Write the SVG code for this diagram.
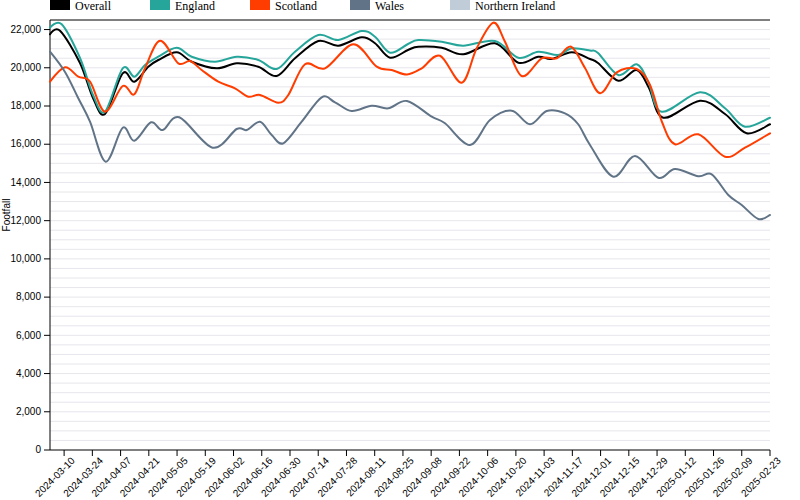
<svg xmlns="http://www.w3.org/2000/svg" width="800" height="500" viewBox="0 0 800 500">
<style>
.grid{stroke:#e6e6ec;stroke-width:1;fill:none}
.axis{stroke:#000;stroke-width:1;fill:none}
.tick{font-family:"Liberation Sans",Arial,sans-serif;font-size:10px;fill:#000}
.leg{font-family:"Liberation Serif","Times New Roman",serif;font-size:12px;fill:#000}
.line{fill:none;stroke-width:2;stroke-linejoin:round;stroke-linecap:round}
</style>
<rect width="800" height="500" fill="#fff"/>
<g id="grid">
<path class="grid" d="M50,440.44H770M50,430.89H770M50,421.33H770M50,411.78H770M50,402.22H770M50,392.67H770M50,383.11H770M50,373.56H770M50,364H770M50,354.44H770M50,344.89H770M50,335.33H770M50,325.78H770M50,316.22H770M50,306.67H770M50,297.11H770M50,287.56H770M50,278H770M50,268.44H770M50,258.89H770M50,249.33H770M50,239.78H770M50,230.22H770M50,220.67H770M50,211.11H770M50,201.56H770M50,192H770M50,182.44H770M50,172.89H770M50,163.33H770M50,153.78H770M50,144.22H770M50,134.67H770M50,125.11H770M50,115.56H770M50,106H770M50,96.44H770M50,86.89H770M50,77.33H770M50,67.78H770M50,58.22H770M50,48.67H770M50,39.11H770M50,29.56H770"/>
</g>
<g id="y-axis">
<path class="axis" d="M50,20V450M44,450H50M44,411.78H50M44,373.56H50M44,335.33H50M44,297.11H50M44,258.89H50M44,220.67H50M44,182.44H50M44,144.22H50M44,106H50M44,67.78H50M44,29.56H50"/>
<g class="tick" text-anchor="end">
<text x="41" y="450" dy="0.32em">0</text>
<text x="41" y="411.78" dy="0.32em">2,000</text>
<text x="41" y="373.56" dy="0.32em">4,000</text>
<text x="41" y="335.33" dy="0.32em">6,000</text>
<text x="41" y="297.11" dy="0.32em">8,000</text>
<text x="41" y="258.89" dy="0.32em">10,000</text>
<text x="41" y="220.67" dy="0.32em">12,000</text>
<text x="41" y="182.44" dy="0.32em">14,000</text>
<text x="41" y="144.22" dy="0.32em">16,000</text>
<text x="41" y="106" dy="0.32em">18,000</text>
<text x="41" y="67.78" dy="0.32em">20,000</text>
<text x="41" y="29.56" dy="0.32em">22,000</text>
</g>
<text class="tick" transform="translate(10,215) rotate(-90)" text-anchor="middle">Footfall</text>
</g>
<g id="top-axis"><path class="axis" d="M50,20H770"/></g>
<g id="x-axis">
<path class="axis" d="M50,450H770M64.12,450v6M92.35,450v6M120.59,450v6M148.82,450v6M177.06,450v6M205.29,450v6M233.53,450v6M261.76,450v6M290,450v6M318.23,450v6M346.47,450v6M374.7,450v6M402.94,450v6M431.17,450v6M459.41,450v6M487.64,450v6M515.88,450v6M544.11,450v6M572.35,450v6M600.58,450v6M628.82,450v6M657.05,450v6M685.29,450v6M713.52,450v6M741.76,450v6M770,450v6"/>
<g class="tick" text-anchor="end">
<text transform="translate(64.12,450) rotate(-45)" y="9" dy="0.71em">2024-03-10</text>
<text transform="translate(92.35,450) rotate(-45)" y="9" dy="0.71em">2024-03-24</text>
<text transform="translate(120.59,450) rotate(-45)" y="9" dy="0.71em">2024-04-07</text>
<text transform="translate(148.82,450) rotate(-45)" y="9" dy="0.71em">2024-04-21</text>
<text transform="translate(177.06,450) rotate(-45)" y="9" dy="0.71em">2024-05-05</text>
<text transform="translate(205.29,450) rotate(-45)" y="9" dy="0.71em">2024-05-19</text>
<text transform="translate(233.53,450) rotate(-45)" y="9" dy="0.71em">2024-06-02</text>
<text transform="translate(261.76,450) rotate(-45)" y="9" dy="0.71em">2024-06-16</text>
<text transform="translate(290,450) rotate(-45)" y="9" dy="0.71em">2024-06-30</text>
<text transform="translate(318.23,450) rotate(-45)" y="9" dy="0.71em">2024-07-14</text>
<text transform="translate(346.47,450) rotate(-45)" y="9" dy="0.71em">2024-07-28</text>
<text transform="translate(374.7,450) rotate(-45)" y="9" dy="0.71em">2024-08-11</text>
<text transform="translate(402.94,450) rotate(-45)" y="9" dy="0.71em">2024-08-25</text>
<text transform="translate(431.17,450) rotate(-45)" y="9" dy="0.71em">2024-09-08</text>
<text transform="translate(459.41,450) rotate(-45)" y="9" dy="0.71em">2024-09-22</text>
<text transform="translate(487.64,450) rotate(-45)" y="9" dy="0.71em">2024-10-06</text>
<text transform="translate(515.88,450) rotate(-45)" y="9" dy="0.71em">2024-10-20</text>
<text transform="translate(544.11,450) rotate(-45)" y="9" dy="0.71em">2024-11-03</text>
<text transform="translate(572.35,450) rotate(-45)" y="9" dy="0.71em">2024-11-17</text>
<text transform="translate(600.58,450) rotate(-45)" y="9" dy="0.71em">2024-12-01</text>
<text transform="translate(628.82,450) rotate(-45)" y="9" dy="0.71em">2024-12-15</text>
<text transform="translate(657.05,450) rotate(-45)" y="9" dy="0.71em">2024-12-29</text>
<text transform="translate(685.29,450) rotate(-45)" y="9" dy="0.71em">2025-01-12</text>
<text transform="translate(713.52,450) rotate(-45)" y="9" dy="0.71em">2025-01-26</text>
<text transform="translate(741.76,450) rotate(-45)" y="9" dy="0.71em">2025-02-09</text>
<text transform="translate(770,450) rotate(-45)" y="9" dy="0.71em">2025-02-23</text>
</g>
</g>
<g id="series">
<path id="overall" class="line" stroke="#000" d="M50,34.3 S55,25.92 60,30.7 S74.5,51.78 80,63 S88.83,89.5 93,98 S100.05,118.12 105,114 S117.82,78.68 122.7,73.3 S130.03,82.8 134.3,81.7 S144.3,70.32 148.3,66.7 S153.57,62.4 158.3,60 S171.13,52.02 176.7,52.3 S185.03,59.03 191.7,61.7 S209.2,68.03 216.7,68.3 S229.77,63.57 236.7,63.3 S251.63,64.58 258.3,66.7 S270.58,77.4 276.7,76 S288.07,64.13 295,58.3 S311.08,43.1 318.3,41 S331.07,46.32 338.3,45.7 S355.58,37.7 361.7,37.3 S370.28,39.9 375,43.3 S384.5,56.58 390,57.7 S403.28,51.83 408,50 S412.68,47.08 418.3,46.7 S434.2,46.43 441.7,47.7 S454.42,55.03 463.3,54.3 S485.83,41.9 495,43.3 S511.08,60.47 518.3,62.7 S532.73,57.32 538.3,56.7 S546.13,59.73 551.7,59 S565.32,52.3 571.7,52.3 S585.62,57.22 590,59 S593.28,59.38 598,63 S611.85,79.53 618.3,80.7 S631.58,68.78 636.7,70 S644.57,80.05 649,88 S654.8,115.58 663.3,117.7 S689.72,101.32 700,100.7 S717.22,108.57 725,114 S739.2,131.58 746.7,133.3 S766.12,125.8 770,124.3"/>
<path id="england" class="line" stroke="#26a69a" d="M50,27.7 S56.75,19.25 61.7,24.3 S74.78,46.22 80,58 S88.83,86.05 93,95 S100.05,116.15 105,111.7 S117.82,74.13 122.7,68.3 S130.58,77.25 134.3,76.7 S141,68.33 145,65 S153.02,59.58 158.3,56.7 S171.13,47.7 176.7,47.7 S185.32,54.37 191.7,56.7 S207.5,61.7 215,61.7 S229.48,56.98 236.7,56.7 S251.63,57.95 258.3,60 S270.58,70.38 276.7,69 S288.07,57.37 295,51.7 S311.08,36.95 318.3,35 S331.07,40.67 338.3,40 S355.58,31.55 361.7,31 S370.28,33.08 375,36.7 S384.5,51.48 390,52.7 S403.28,46.12 408,44 S412.68,40.38 418.3,40 S434.2,40.75 441.7,41.7 S454.42,45.82 463.3,45.7 S485.83,39 495,41 S511.08,55.92 518.3,57.7 S531.63,52.15 538.3,51.7 S552.73,55.57 558.3,55 S566.42,49.05 571.7,48.3 S585.62,49.72 590,50.5 S593.28,48.92 598,53 S611.85,73.12 618.3,75 S631.7,63.18 636.7,64.3 S644.13,73.8 648.3,81.7 S653.08,109.93 661.7,111.7 S689.45,92.87 700,92.3 S717.5,102.57 725,108.3 S737.5,125.13 745,126.7 S765.83,119.2 770,117.7"/>
<path id="scotland" class="line" stroke="#ff3d00" d="M50,81.7 S60.28,68.13 65,67.3 S74.13,74.3 78.3,76.7 S85.55,75.87 90,81.7 S99.55,110.98 105,111.7 S117.82,88.9 122.7,86 S130.58,97.25 134.3,94.3 S140.72,77.23 145,68.3 S154.45,41.53 160,40.7 S173.3,59.92 178.3,63.3 S186.1,59.88 190,61 S196.98,66.55 201.7,70 S212.75,78.65 218.3,81.7 S230,85.8 235,88.3 S244.13,95.58 248.3,96.7 S255,94 260,95 S273.58,102.7 278.3,102.7 S283.85,101.4 288.3,95 S298.88,68.75 305,64.3 S316.95,71.63 325,68.3 S344.68,44.57 353.3,44.3 S370.3,62.42 376.7,66.7 S386.65,68.7 391.7,70 S402,74.78 407,74.5 S416.2,71.43 421.7,68.3 S433.33,53.3 440,55.7 S455.58,83.93 461.7,82.7 S471.43,58.3 476.7,48.3 S488.58,23.8 493.3,22.7 S500.27,32.82 505,41.7 S515.58,73.23 521.7,76 S535.87,61.25 541.7,58.3 S551.82,60.23 556.7,58.3 S566.28,45.08 571,46.7 S580.17,60.23 585,68 S594.72,92.58 600,93.3 S610.58,76.35 616.7,72.3 S631.15,66.88 636.7,69 S645.78,76.17 650,85 S657.83,112.12 662,122 S668.95,142.25 675,144.3 S689.97,132.23 698.3,134.3 S717.22,154.47 725,156.7 S737.5,151.6 745,147.7 S765.83,135.7 770,133.3"/>
<path id="wales" class="line" stroke="#617487" d="M50,51.7 S60.28,64.23 65,72 S74.13,90.02 78.3,98.3 S85.43,111.13 90,121.7 S100.25,160.7 105.7,161.7 S117.93,131.2 122.7,127.7 S129.58,141.6 134.3,140.7 S146.27,124.08 151,122.3 S157.98,130.83 162.7,130 S170.97,114.35 179.3,117.3 S203.13,145.75 212.7,147.7 S231.03,131.95 236.7,129 S242.82,131.22 246.7,130 S255.83,120.87 260,121.7 S267.82,131.4 271.7,135 S278.3,145.52 283.3,143.3 S295.3,129.37 301.7,121.7 S316.15,100.53 321.7,97.3 S330,100.02 335,102.3 S345.58,110.43 351.7,111 S365.6,106.15 371.7,105.7 S382.42,109.08 388.3,108.3 S399.77,99.6 407,101 S425.37,112.98 431.7,116.7 S438.62,118.58 445,123.3 S462.5,145.55 470,145 S483.05,125.72 490,120 S505.03,109.98 511.7,110.7 S524.17,124.25 530,124.3 S540.87,112.83 546.7,111 S559.78,111.13 565,113.3 S573.83,118.72 578,124 S584.12,136.22 590,145 S605.8,174.87 613.3,176.7 S627.5,155.83 635,156 S651.63,175.53 658.3,177.7 S668.33,169.23 675,169 S692.18,175.42 698.3,176.3 S706.7,171.18 711.7,174.3 S723.3,189.88 728.3,195 S736.7,201 741.7,205 S753.58,217.33 758.3,219 S768.05,215.67 770,215"/>
</g>
<g id="legend">
<g id="legend-overall"><rect x="50" y="0" width="20" height="10" fill="#000"/><text class="leg" x="75" y="10">Overall</text></g>
<g id="legend-england"><rect x="150" y="0" width="20" height="10" fill="#26a69a"/><text class="leg" x="175" y="10">England</text></g>
<g id="legend-scotland"><rect x="250" y="0" width="20" height="10" fill="#ff3d00"/><text class="leg" x="275" y="10">Scotland</text></g>
<g id="legend-wales"><rect x="350" y="0" width="20" height="10" fill="#617487"/><text class="leg" x="375" y="10">Wales</text></g>
<g id="legend-ni"><rect x="450" y="0" width="20" height="10" fill="#c0cdd8"/><text class="leg" x="475" y="10">Northern Ireland</text></g>
</g>
</svg>
